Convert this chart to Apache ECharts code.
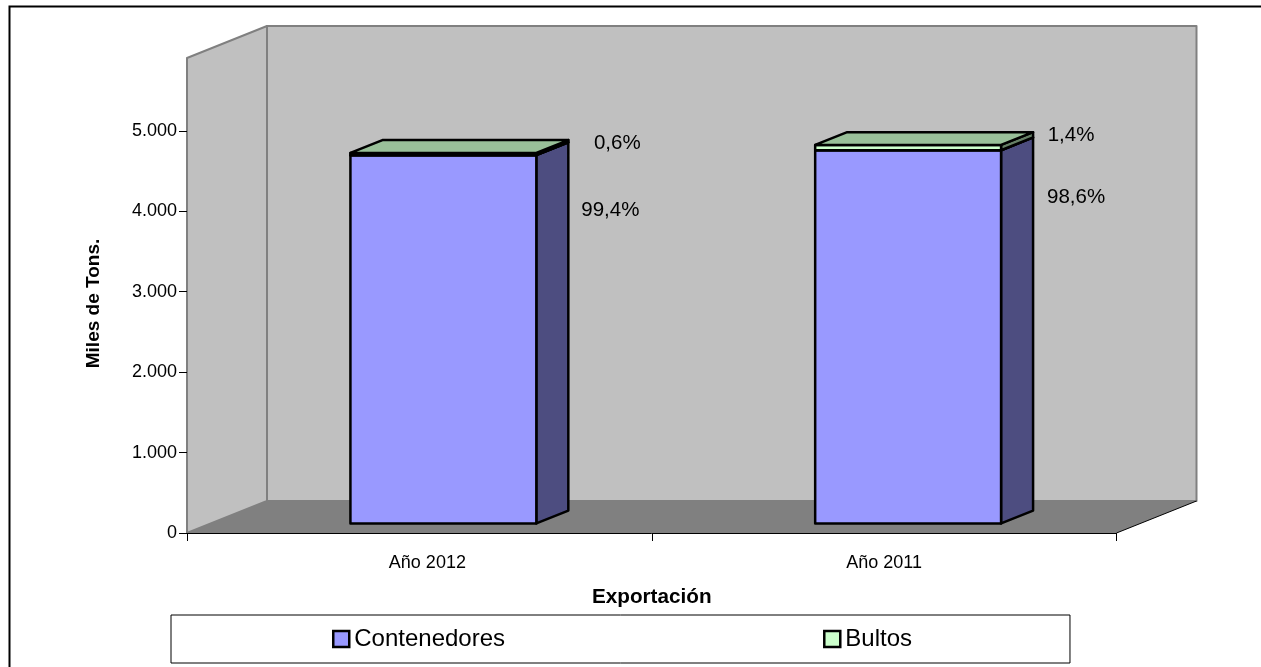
<!DOCTYPE html>
<html>
<head>
<meta charset="utf-8">
<style>html,body{margin:0;padding:0;background:#fff}#c{width:1261px;height:667px}</style>
<script src="https://cdn.jsdelivr.net/npm/echarts@6/dist/echarts.min.js"></script>
</head>
<body>
<div id="c"></div>
<script>
const categories = ['Año 2012', 'Año 2011'];
const contenedores = [4578, 4639];
const bultos = [28, 66];
const contenedoresPct = ['99,4%', '98,6%'];
const bultosPct = ['0,6%', '1,4%'];
const yTicks = [0, 1000, 2000, 3000, 4000, 5000];
const yMax = 5905;

const FONT = '"Liberation Sans", Arial, sans-serif';
const depthX = 80, depthY = 32;
const barInset = 0.3, barDepth = 0.4, barWidthRatio = 0.4;
const colors = {
  wall: '#C0C0C0', wallEdge: '#808080', floor: '#808080',
  front: ['#9999FF', '#CCFFCC'], side: ['#4D4D80', '#668066'], top: ['#9999CC', '#99C099']
};
// label offsets from the bar's upper right back corner (style only)
const pctOffset = {
  bultos: [[49, 3], [38, 3]],
  contenedores: [[42, 70], [43, 65]]
};

const chart = echarts.init(document.getElementById('c'), null, {renderer: 'canvas'});

function poly(points, fill, stroke, lw) {
  return {type: 'polygon', shape: {points},
    style: {fill, stroke: stroke || 'none', lineWidth: lw || 0, lineJoin: 'round'}};
}

function renderWalls(params, api) {
  const xs = params.coordSys;
  const x0 = xs.x, x1 = xs.x + xs.width, yb = api.coord([0, 0])[1], yt = api.coord([0, yMax])[1];
  const e = colors.wallEdge;
  return {type: 'group', silent: true, children: [
    poly([[x0, yt], [x0 + depthX, yt - depthY], [x0 + depthX, yb - depthY], [x0, yb]], colors.wall, e, 2),
    poly([[x0 + depthX, yt - depthY], [x1 + depthX, yt - depthY], [x1 + depthX, yb - depthY], [x0 + depthX, yb - depthY]], colors.wall, e, 2),
    poly([[x0, yb], [x0 + depthX, yb - depthY], [x1 + depthX, yb - depthY], [x1, yb]], colors.floor),
    {type: 'polyline', shape: {points: [[x1, yb], [x1 + depthX, yb - depthY]]}, style: {stroke: '#000', lineWidth: 1, fill: 'none'}}
  ]};
}

function barRender(idx) {
  return function (params, api) {
    const cat = api.value(0), base = api.value(1), val = api.value(2);
    const band = api.size([1, 0])[0];
    const w = band * barWidthRatio;
    const lo = api.coord([cat, base]), hi = api.coord([cat, base + val]);
    const ox = barInset * depthX, oy = barInset * depthY;
    const dx = barDepth * depthX, dy = barDepth * depthY;
    const l = lo[0] + ox - w / 2, r = lo[0] + ox + w / 2;
    const b = lo[1] - oy, t = hi[1] - oy;
    const lw = 2.5;
    const children = [
      poly([[r, b], [r + dx, b - dy], [r + dx, t - dy], [r, t]], colors.side[idx], '#000', lw),
      poly([[l, b], [r, b], [r, t], [l, t]], colors.front[idx], '#000', lw),
      poly([[l, t], [l + dx, t - dy], [r + dx, t - dy], [r, t]], colors.top[idx], '#000', lw)
    ];
    const off = idx === 0 ? pctOffset.contenedores[cat] : pctOffset.bultos[cat];
    const txt = idx === 0 ? contenedoresPct[cat] : bultosPct[cat];
    const tip = api.coord([cat, contenedores[cat] + bultos[cat]]);
    children.push({type: 'text', silent: true, z2: 10, style: {
      text: txt, x: r + dx + off[0], y: tip[1] - oy - dy + off[1],
      align: 'center', verticalAlign: 'middle', font: '20.5px ' + FONT, fill: '#000'
    }});
    return {type: 'group', children};
  };
}

chart.setOption({
  animation: false,
  backgroundColor: '#fff',
  graphic: [{type: 'rect', silent: true, z: -1,
    shape: {x: 9.5, y: 6.5, width: 1400, height: 800},
    style: {fill: 'none', stroke: '#000', lineWidth: 2}}],
  grid: {left: 187, right: 144.5, top: 58, bottom: 134, containLabel: false},
  xAxis: {
    type: 'category', boundaryGap: true, z: 5,
    data: categories.map((c, i) => i === 0 ? {value: c, textStyle: {padding: [0, 0, 0, 16]}} : c),
    name: 'Exportación', nameLocation: 'middle', nameGap: 54,
    nameTextStyle: {fontFamily: FONT, fontWeight: 'bold', fontSize: 20.7, color: '#000'},
    axisLine: {lineStyle: {color: '#000', width: 1}},
    axisTick: {show: true, alignWithLabel: false, length: 8, lineStyle: {color: '#000'}},
    axisLabel: {fontFamily: FONT, fontSize: 18, color: '#000', margin: 21}
  },
  yAxis: {
    type: 'value', min: 0, max: yMax, z: 5,
    name: 'Miles de Tons.', nameLocation: 'middle', nameGap: 84,
    nameTextStyle: {fontFamily: FONT, fontWeight: 'bold', fontSize: 19, color: '#000', padding: [0, 16, 0, 0]},
    axisLine: {show: false},
    axisTick: {show: true, length: 8, customValues: yTicks, lineStyle: {color: '#000'}},
    axisLabel: {fontFamily: FONT, fontSize: 18, color: '#000', margin: 10,
      customValues: yTicks,
      formatter: v => String(v).replace(/\B(?=(\d{3})+$)/g, '.')},
    splitLine: {show: false}
  },
  legend: {
    data: ['Contenedores', 'Bultos'],
    left: 171, top: 615, orient: 'horizontal',
    padding: [12, 158, 12, 161],
    itemGap: 318, itemWidth: 16, itemHeight: 16, icon: 'rect',
    itemStyle: {borderColor: '#000', borderWidth: 2.5},
    borderColor: '#000', borderWidth: 1, backgroundColor: '#fff',
    textStyle: {fontFamily: FONT, fontSize: 24, color: '#000'},
    selectedMode: false
  },
  series: [
    {type: 'custom', name: 'walls', renderItem: renderWalls, data: [[0, 0]], silent: true, z: 1,
      clip: false, encode: {x: 0, y: 1}},
    {type: 'custom', name: 'Contenedores', renderItem: barRender(0), z: 2, clip: false,
      itemStyle: {color: colors.front[0], borderColor: '#000', borderWidth: 2},
      encode: {x: 0, y: 2},
      data: contenedores.map((v, i) => [i, 0, v])},
    {type: 'custom', name: 'Bultos', renderItem: barRender(1), z: 3, clip: false,
      itemStyle: {color: colors.front[1], borderColor: '#000', borderWidth: 2},
      encode: {x: 0, y: 2},
      data: bultos.map((v, i) => [i, contenedores[i], v])}
  ]
});
</script>
</body>
</html>
